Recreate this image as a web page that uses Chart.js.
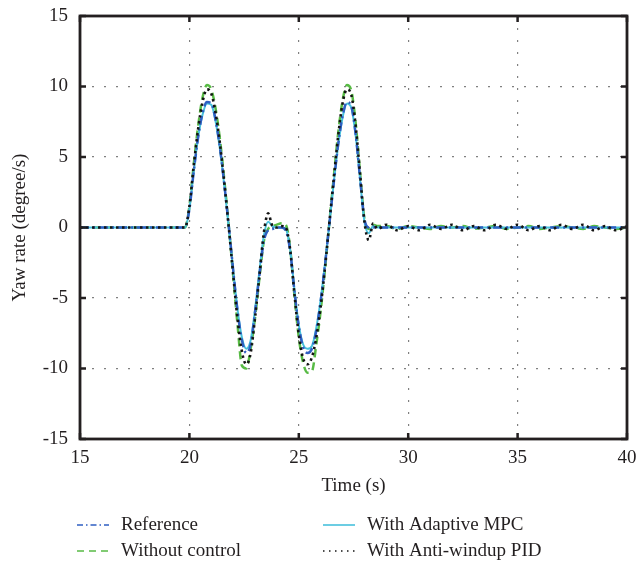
<!DOCTYPE html>
<html>
<head>
<meta charset="utf-8">
<script src="https://cdn.jsdelivr.net/npm/chart.js@4.4.1/dist/chart.umd.min.js"></script>
<style>
  html, body { margin: 0; padding: 0; background: #fff; }
  canvas { display: block; }
</style>
</head>
<body>
<canvas id="yawChart" width="640" height="569"></canvas>
<script>
// time axis (s)
const timeS = [15,
  19.8, 20.0, 20.2, 20.4, 20.6, 20.8, 21.0, 21.2, 21.4, 21.6,
  21.8, 22.0, 22.2, 22.4, 22.6, 22.8, 23.0, 23.2, 23.4, 23.6,
  23.8, 24.0, 24.2, 24.4, 24.6, 24.8, 25.0, 25.2, 25.4, 25.6,
  25.8, 26.0, 26.2, 26.4, 26.6, 26.8, 27.0, 27.2, 27.4, 27.6,
  27.8, 28.0, 28.2, 28.4, 28.6,
  29.0, 29.5, 30.0, 30.5, 31.0, 31.5, 32.0, 32.5, 33.0, 33.5,
  34.0, 34.5, 35.0, 35.5, 36.0, 36.5, 37.0, 37.5, 38.0, 38.5,
  39.0, 39.5, 40.0];

// yaw rate (degree/s)
const referenceYaw = [0,
  0, 1.3, 4.0, 6.4, 8.1, 8.9, 8.8, 7.6, 5.6, 3.0,
  0.1, -3.0, -5.9, -8.0, -8.9, -8.3, -6.0, -3.4, -1.0, -0.2,
  -0.1, 0, 0, -0.2, -1.6, -4.5, -7.0, -8.5, -8.9, -8.6,
  -7.3, -5.2, -2.6, 0.3, 3.2, 5.9, 7.9, 8.9, 8.6, 6.6,
  3.5, 0.6, 0, 0, 0,
  0, 0, 0, 0, 0, 0, 0, 0, 0, 0,
  0, 0, 0, 0, 0, 0, 0, 0, 0, 0,
  0, 0, 0];

const noControlYaw = [0,
  0, 1.5, 4.5, 7.2, 9.2, 10.1, 9.8, 8.4, 6.2, 3.3,
  0.1, -3.4, -6.9, -9.8, -10.0, -8.6, -6.4, -3.6, -1.0, -0.1,
  0.1, 0.2, 0.3, 0.2, -1.4, -4.8, -7.8, -9.6, -10.3, -10.2,
  -8.3, -5.9, -2.9, 0.4, 3.6, 6.7, 9.0, 10.1, 9.7, 7.4,
  3.9, 0.6, -0.1, 0.2, 0.1,
  0.1, -0.1, 0.1, 0, -0.1, 0.1, 0, 0.1, -0.1, 0,
  0.1, -0.1, 0, 0.1, -0.1, 0, 0.1, 0, -0.1, 0.1,
  0, -0.1, 0];

const adaptiveMpcYaw = [0,
  0, 1.3, 4.0, 6.4, 8.0, 8.8, 8.7, 7.5, 5.5, 2.9,
  0.0, -3.0, -5.8, -7.8, -8.6, -8.0, -5.8, -3.1, -0.6, 0.4,
  0.1, 0, 0, -0.1, -1.5, -4.4, -6.9, -8.3, -8.6, -8.4,
  -7.1, -5.1, -2.5, 0.3, 3.2, 5.8, 7.8, 8.8, 8.5, 6.5,
  3.4, 0.4, -0.4, 0.1, 0,
  0, 0, 0, 0, 0, 0, 0, 0, 0, 0,
  0, 0, 0, 0, 0, 0, 0, 0, 0, 0,
  0, 0, 0];

const antiWindupPidYaw = [0,
  0, 1.5, 4.4, 7.0, 8.9, 9.8, 9.5, 8.1, 5.9, 3.1,
  0.0, -3.3, -6.5, -8.8, -9.7, -8.9, -6.4, -3.4, -0.4, 1.0,
  0.1, 0.0, 0.1, 0.0, -1.5, -4.7, -7.6, -9.3, -9.7, -9.2,
  -7.8, -5.6, -2.8, 0.4, 3.5, 6.5, 8.8, 9.8, 9.4, 7.2,
  3.8, 0.4, -0.9, 0.3, -0.1,
  0.2, -0.2, 0.1, -0.2, 0.2, -0.1, 0.2, -0.2, 0.1, -0.2,
  0.2, -0.1, 0.2, -0.2, 0.1, -0.2, 0.2, -0.1, 0.2, -0.2,
  0.1, -0.2, 0.1];

const xTicks = [15, 20, 25, 30, 35, 40];
const yTicks = [-15, -10, -5, 0, 5, 10, 15];

const INK = '#231f20';
const FONT = 'Liberation Serif';

function toPoints(values) {
  return timeS.map((t, i) => ({ x: t, y: values[i] }));
}

// frame, inward tick marks and the 2x2 legend under the axis
const frameAndLegend = {
  id: 'frameAndLegend',
  afterDraw(chart) {
    const { ctx, chartArea: a, scales } = chart;
    ctx.save();
    ctx.strokeStyle = INK;
    ctx.setLineDash([]);
    ctx.lineWidth = 2.5;
    ctx.beginPath();
    xTicks.forEach((v) => {
      const px = scales.x.getPixelForValue(v);
      ctx.moveTo(px, a.bottom); ctx.lineTo(px, a.bottom - 6);
      ctx.moveTo(px, a.top); ctx.lineTo(px, a.top + 6);
    });
    yTicks.forEach((v) => {
      const py = scales.y.getPixelForValue(v);
      ctx.moveTo(a.left, py); ctx.lineTo(a.left + 6, py);
      ctx.moveTo(a.right, py); ctx.lineTo(a.right - 6, py);
    });
    ctx.stroke();
    ctx.lineWidth = 2.8;
    ctx.strokeRect(a.left, a.top, a.right - a.left, a.bottom - a.top);

    const colX = [77, 323];
    const rowY = [525, 551];
    ctx.font = '19px "' + FONT + '"';
    ctx.textBaseline = 'middle';
    ctx.textAlign = 'left';
    chart.data.datasets.forEach((ds, i) => {
      const x = colX[Math.floor(i / 2)];
      const y = rowY[i % 2];
      ctx.strokeStyle = ds.borderColor;
      ctx.lineWidth = 1.6;
      ctx.setLineDash(ds.legendDash);
      ctx.beginPath();
      ctx.moveTo(x, y);
      ctx.lineTo(x + 32, y);
      ctx.stroke();
      ctx.setLineDash([]);
      ctx.fillStyle = INK;
      ctx.fillText(ds.label, x + 44, y);
    });
    ctx.restore();
  }
};

new Chart(document.getElementById('yawChart').getContext('2d'), {
  type: 'line',
  data: {
    datasets: [
      {
        label: 'Reference',
        data: toPoints(referenceYaw),
        borderColor: '#2f5fc2',
        borderWidth: 2.5,
        borderDash: [9, 4, 2, 4],
        legendDash: [6, 3, 1.5, 3],
        order: 1
      },
      {
        label: 'Without control',
        data: toPoints(noControlYaw),
        borderColor: '#58bb45',
        borderWidth: 2.5,
        borderDash: [8, 5],
        legendDash: [7, 5],
        order: 3
      },
      {
        label: 'With Adaptive MPC',
        data: toPoints(adaptiveMpcYaw),
        borderColor: '#47c1dc',
        borderWidth: 2,
        borderDash: [],
        legendDash: [],
        order: 2
      },
      {
        label: 'With Anti-windup PID',
        data: toPoints(antiWindupPidYaw),
        borderColor: '#141414',
        borderWidth: 2.6,
        borderDash: [2.5, 3.5],
        legendDash: [1.5, 4.5],
        order: 0
      }
    ]
  },
  options: {
    responsive: false,
    animation: false,
    devicePixelRatio: 1,
    layout: { padding: { left: 0, right: 13, top: 16, bottom: 0 } },
    elements: {
      point: { radius: 0 },
      line: { cubicInterpolationMode: 'monotone', fill: false }
    },
    plugins: {
      legend: { display: false },
      tooltip: { enabled: false }
    },
    scales: {
      x: {
        type: 'linear',
        min: 15,
        max: 40,
        afterFit: (scale) => {
          scale.height = 130;
          scale.paddingLeft = 0;
          scale.paddingRight = 0;
        },
        afterBuildTicks: (scale) => { scale.ticks = xTicks.map((v) => ({ value: v })); },
        ticks: { color: INK, font: { family: FONT, size: 19 }, padding: 8 },
        grid: { color: '#808080', lineWidth: 1.2, drawTicks: false },
        border: { display: false, dash: [2, 10] },
        title: {
          display: true,
          text: 'Time (s)',
          color: INK,
          font: { family: FONT, size: 19 },
          padding: { top: 0, bottom: 72 }
        }
      },
      y: {
        min: -15,
        max: 15,
        afterFit: (scale) => {
          scale.width = 80;
          scale.paddingTop = 0;
          scale.paddingBottom = 0;
        },
        afterBuildTicks: (scale) => { scale.ticks = yTicks.map((v) => ({ value: v })); },
        ticks: { color: INK, font: { family: FONT, size: 19 }, padding: 12 },
        grid: { color: '#808080', lineWidth: 1.2, drawTicks: false },
        border: { display: false, dash: [2, 10] },
        title: {
          display: true,
          text: 'Yaw rate (degree/s)',
          color: INK,
          font: { family: FONT, size: 19 },
          padding: { top: 9, bottom: 0 }
        }
      }
    }
  },
  plugins: [frameAndLegend]
});
</script>
</body>
</html>
